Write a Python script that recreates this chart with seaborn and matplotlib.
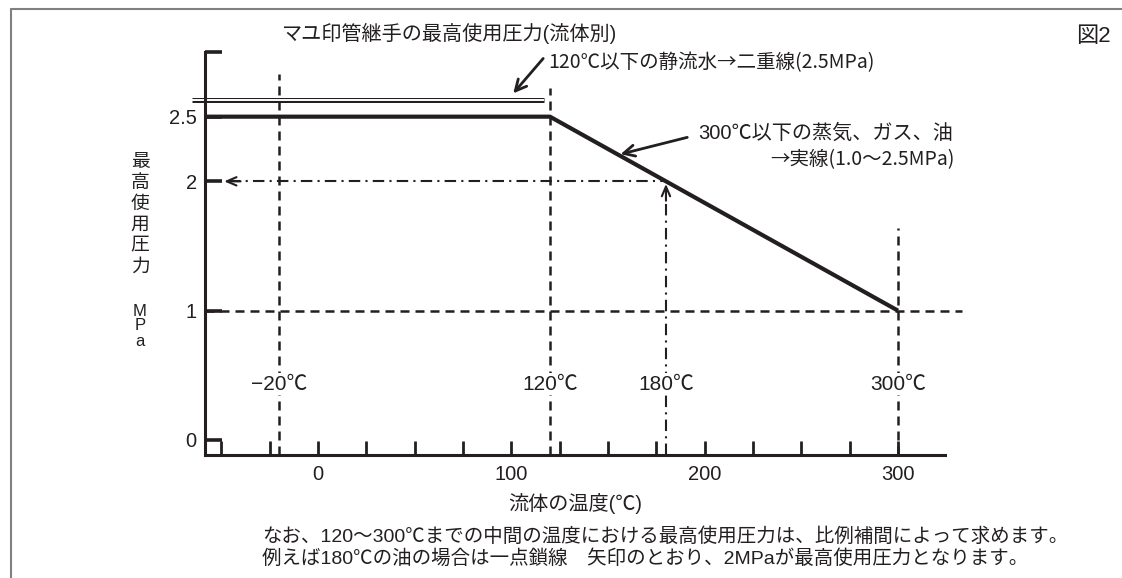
import matplotlib
matplotlib.use("Agg")
import matplotlib.pyplot as plt
import matplotlib.patheffects as pe
from matplotlib.lines import Line2D
import seaborn as sns

# values (temperature in C, pressure in MPa)
solid_temp = [-58, 120, 300]          # steam / gas / oil, solid line
solid_press = [2.5, 2.5, 1.0]
water_temp = [-65, 117]               # static water, double line
water_press = [2.5, 2.5]
ref_temps = [-20, 120, 180, 300]
ref_labels = ["−20℃", "120℃", "180℃", "300℃"]
dashed_temps = [-20, 120, 300]
example_temp = 180
example_press = 2.0
min_press = 1.0
xticks_major = [0, 100, 200, 300]
xticks_minor = [-50, -25, 25, 50, 75, 125, 150, 175, 225, 250, 275]
yticks = [0, 1, 2, 2.5, 3]
ytick_labels = ["0", "1", "2", "2.5", ""]

title = "マユ印管継手の最高使用圧力(流体別)"
fig_no = "図2"
water_note = "120℃以下の静流水→二重線(2.5MPa)"
steam_note1 = "300℃以下の蒸気、ガス、油"
steam_note2 = "→実線(1.0〜2.5MPa)"
xlabel = "流体の温度(℃)"
ylabel_jp = "最高使用圧力"
ylabel_unit = "MPa"
note_lines = ["なお、120〜300℃までの中間の温度における最高使用圧力は、比例補間によって求めます。",
              "例えば180℃の油の場合は一点鎖線　矢印のとおり、2MPaが最高使用圧力となります。"]

sns.set_style("white")
plt.rcParams['font.family'] = ['Liberation Sans', 'Noto Sans CJK JP']
JP = ['Noto Sans CJK JP', 'Liberation Sans']
INK = "#231f20"

W, H = 1122, 578
fig = plt.figure(figsize=(W / 100, H / 100), dpi=100)
ax = fig.add_axes([205 / W, 1 - 455 / H, (945 - 205) / W, (455 - 52) / H])
XMIN, XMAX = -58.4, 324.3
YMIN, YMAX = -0.116, 3.0
ax.set_xlim(XMIN, XMAX)
ax.set_ylim(YMIN, YMAX)

def fig_text(x, y, s, **kw):
    kw.setdefault("color", INK)
    fig.text(x / W, 1 - y / H, s, **kw)

# outer frame
fig.add_artist(Line2D([11 / W, 1], [1 - 9 / H, 1 - 9 / H], color="#808080", lw=1.5))
fig.add_artist(Line2D([11 / W, 11 / W], [0, 1 - 9 / H], color="#808080", lw=1.5))

# axes styling
for side in ["top", "right"]:
    ax.spines[side].set_visible(False)
for side in ["left", "bottom"]:
    ax.spines[side].set_linewidth(2.2)
    ax.spines[side].set_color(INK)
ax.set_xticks(xticks_major)
ax.set_xticks(xticks_minor, minor=True)
ax.set_yticks(yticks)
ax.set_yticklabels(ytick_labels)
ax.tick_params(axis="x", which="both", bottom=True, direction="in", length=10, width=2,
               color=INK, labelcolor=INK, labelsize=14.5, pad=7)
ax.tick_params(axis="y", left=True, direction="in", length=12, width=2.6,
               color=INK, labelcolor=INK, labelsize=14.5, pad=6)

dash = (0, (3.6, 2.4))
dashdot = (0, (5.5, 2.5, 1, 2.5))

# dashed guide lines
ax.plot([XMIN, 333], [min_press, min_press], color=INK, lw=1.8, ls=dash, clip_on=False)
tops = [2.83, 2.72, 1.64]
for t, top in zip(dashed_temps, tops):
    ax.plot([t, t], [YMIN, top], color=INK, lw=1.8, ls=dash, clip_on=False)

# example: 180C -> 2 MPa (dash-dot with arrows)
ax.plot([example_temp, example_temp], [YMIN, example_press - 0.1], color=INK, lw=1.5, ls=dashdot)
ax.plot([-46, example_temp], [example_press, example_press], color=INK, lw=1.5, ls=dashdot)
head = dict(arrowstyle="->,head_length=0.7,head_width=0.3", lw=1.5, color=INK, shrinkA=0, shrinkB=0)
ax.annotate("", xy=(example_temp, example_press - 0.02), xytext=(example_temp, example_press - 0.15),
            arrowprops=head)
ax.annotate("", xy=(-48.5, example_press), xytext=(-40, example_press), arrowprops=head)

# max pressure lines
sns.lineplot(x=solid_temp, y=solid_press, ax=ax, color=INK, lw=3, solid_capstyle="butt", clip_on=False)
DOUBLE_OFFSET = 0.13
sns.lineplot(x=water_temp, y=[p + DOUBLE_OFFSET for p in water_press], ax=ax, color="white", lw=1.4,
             solid_capstyle="butt", clip_on=False,
             path_effects=[pe.Stroke(linewidth=3.6, foreground=INK, capstyle="butt"), pe.Normal()])

# temperature labels on the guide lines
for t, lab in zip(ref_temps, ref_labels):
    ax.text(t, 0.43, lab, ha="center", va="center", fontsize=15, color=INK,
            bbox=dict(fc="white", ec="none", pad=1))

# pointer arrows
ptr = dict(arrowstyle="->,head_length=0.8,head_width=0.4", lw=2, color=INK, shrinkA=0, shrinkB=0)
ax.annotate("", xy=(101, 2.68), xytext=(116.5, 2.95), arrowprops=ptr, annotation_clip=False)
ax.annotate("", xy=(156.5, 2.21), xytext=(191, 2.34), arrowprops=ptr, annotation_clip=False)

# texts
fig_text(282, 33, title, ha="left", va="center", fontsize=14.5)
fig_text(1093, 36, fig_no, ha="center", va="center", fontsize=16)
fig_text(548, 63, water_note, ha="left", va="center", fontsize=14, family=JP)
fig_text(698, 133, steam_note1, ha="left", va="center", fontsize=14.5)
fig_text(770, 160, steam_note2, ha="left", va="center", fontsize=14, family=JP)
fig_text(575, 503, xlabel, ha="center", va="center", fontsize=14.5)
fig_text(140, 215, "\n".join(ylabel_jp), ha="center", va="center", fontsize=13.5, linespacing=1.3)
fig_text(140, 326, "\n".join(ylabel_unit), ha="center", va="center", fontsize=12, linespacing=1.0)
fig_text(262, 537, note_lines[0], ha="left", va="center", fontsize=14)
fig_text(262, 559, note_lines[1], ha="left", va="center", fontsize=14)

fig.savefig("out.png", dpi=100)
